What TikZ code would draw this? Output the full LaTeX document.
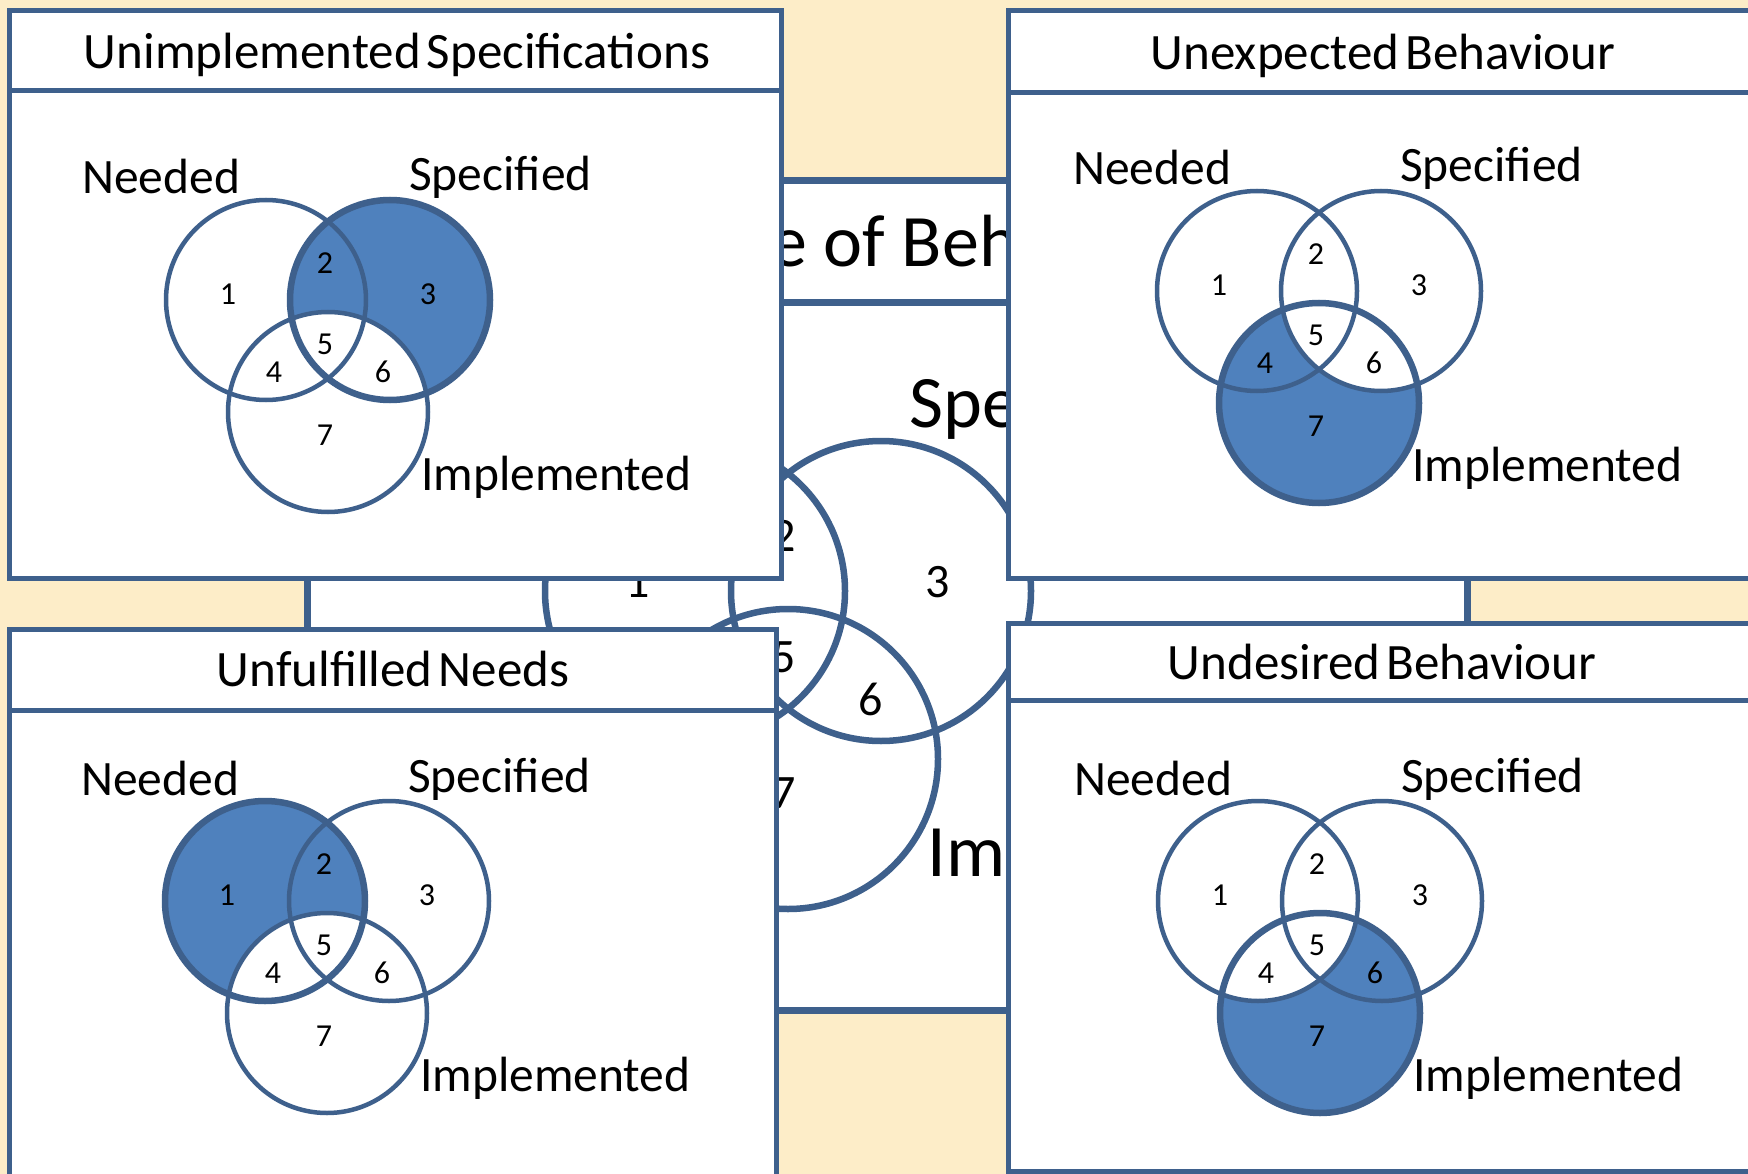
\documentclass[tikz,border=0pt]{standalone}
\usepackage{fontspec}
\setmainfont{Carlito}
\definecolor{paper}{RGB}{253,237,200}
\definecolor{frame}{RGB}{62,96,140}
\definecolor{regionblue}{RGB}{79,129,189}

% narrow word spaces used in the panel headings
\newcommand\narrowspaces{\spaceskip=0.12em plus 0.05em\relax}

\tikzset{
  box/.style={draw=frame, line width=5pt, fill=white},
  rule/.style={draw=frame, line width=5pt},
  bigbox/.style={draw=frame, line width=7pt, fill=white},
  bigrule/.style={draw=frame, line width=7pt},
  ringsmall/.style={draw=frame, line width=4.5pt},
  ringbig/.style={draw=frame, line width=6.5pt},
  boldsmall/.style={draw=frame, line width=6.5pt},
  boldbig/.style={draw=frame, line width=8pt},
  ttl/.style={font={\fontsize{51}{61}\selectfont\narrowspaces}, anchor=base, inner sep=0pt},
  bigttl/.style={font=\fontsize{74}{88}\selectfont, anchor=base, inner sep=0pt},
  labsmall/.style={font=\fontsize{49.5}{59}\selectfont, anchor=base west, inner sep=0pt},
  labbig/.style={font=\fontsize{74}{88}\selectfont, anchor=base west, inner sep=0pt},
  numsmall/.style={font=\fontsize{32}{38}\selectfont, inner sep=0pt},
  numbig/.style={font=\fontsize{48}{58}\selectfont, inner sep=0pt},
}

% Three-set Venn diagram: Needed at the origin, Specified to the right,
% Implemented below between them.
% #1 name prefix, #2 centre of the Needed circle, #3 scale,
% #4 size key (small/big), #5 shaded circle, #6 circle cut out of the shading
\newcommand\venn[6]{%
  \begin{scope}[shift={#2}, scale=#3]
    \if\relax\detokenize{#5}\relax\else
      \fill[regionblue] #5 circle[radius=100];
      \fill[white] #6 circle[radius=100];
    \fi
    \draw[ring#4] (0,0) circle[radius=100];
    \draw[ring#4] (124,0) circle[radius=100];
    \draw[ring#4] (62,112) circle[radius=100];
    \if\relax\detokenize{#5}\relax\else
      \draw[bold#4] #5 circle[radius=100];
    \fi
    \node[lab#4] (#1-needed) at (-184,-106) {Needed};
    \node[lab#4] (#1-specified) at (143,-109) {Specified};
    \node[lab#4] (#1-implemented) at (155,190) {Implemented};
    \node[num#4] (#1-r1) at (-38,-6) {1};
    \node[num#4] (#1-r2) at (59,-37) {2};
    \node[num#4] (#1-r3) at (162,-6) {3};
    \node[num#4] (#1-r4) at (8,72) {4};
    \node[num#4] (#1-r5) at (59,44) {5};
    \node[num#4] (#1-r6) at (117,72) {6};
    \node[num#4] (#1-r7) at (59,135) {7};
  \end{scope}}

\begin{document}
\begin{tikzpicture}[x=1pt, y=-1pt]
  \clip (0,0) rectangle (1748,1174);
  \fill[paper] (0,0) rectangle (1748,1174);

  % large diagram in the background
  \draw[bigbox] (307,181) rectangle (1467,1010);
  \draw[bigrule] (307,303) -- (1467,303);
  \node[bigttl] (main-title) at (875,267) {Universe of Behaviour};
  \venn{main}{(695,591)}{1.5}{big}{}{}

  % top left
  \draw[box] (9,11) rectangle (781,578);
  \draw[rule] (9,91) -- (781,91);
  \node[ttl] (tl-title) at (397,69) {Unimplemented Specifications};
  \venn{tl}{(266,300)}{1}{small}{(124,0)}{(62,112)}

  % top right
  \draw[box] (1008,11) rectangle (1762,578);
  \draw[rule] (1008,93) -- (1762,93);
  \node[ttl] (tr-title) at (1383,70) {Unexpected Behaviour};
  \venn{tr}{(1257,291)}{1}{small}{(62,112)}{(124,0)}

  % bottom left
  \draw[box] (9,629) rectangle (776,1195);
  \draw[rule] (9,710) -- (776,710);
  \node[ttl] (bl-title) at (393,686) {Unfulfilled Needs};
  \venn{bl}{(265,901)}{1}{small}{(0,0)}{(62,112)}

  % bottom right
  \draw[box] (1008,623) rectangle (1762,1171);
  \draw[rule] (1008,700) -- (1762,700);
  \node[ttl] (br-title) at (1382,679) {Undesired Behaviour};
  \venn{br}{(1258,901)}{1}{small}{(62,112)}{(0,0)}
\end{tikzpicture}
\end{document}
